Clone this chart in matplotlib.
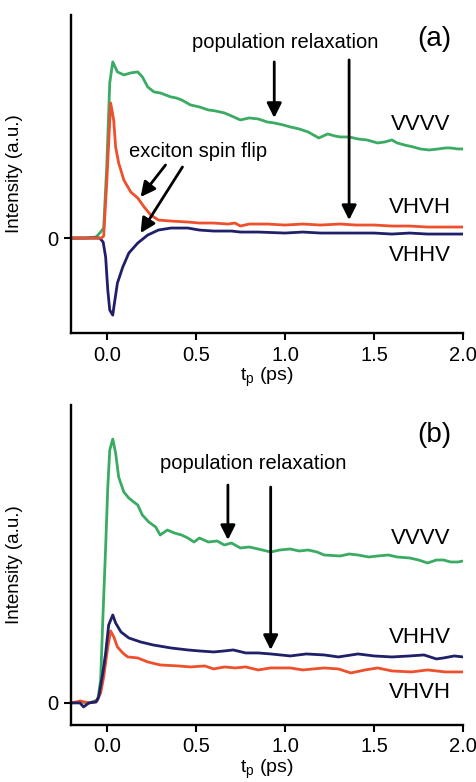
import matplotlib
matplotlib.use('Agg')
import matplotlib.pyplot as plt

plt.rcParams['font.family'] = ['Liberation Sans', 'DejaVu Sans']

# ---- panel (a) data: delay (ps) and intensity (a.u.) ----
t_a_vvvv = [-0.20, -0.12, -0.06, -0.034, -0.017, 0.0, 0.017, 0.034, 0.06, 0.096, 0.135,
            0.174, 0.20, 0.23, 0.265, 0.30, 0.33, 0.36, 0.39, 0.42, 0.47, 0.52, 0.57,
            0.61, 0.66, 0.70, 0.75, 0.80, 0.85, 0.90, 0.94, 0.99, 1.03, 1.08, 1.13,
            1.19, 1.24, 1.28, 1.31, 1.36, 1.41, 1.46, 1.52, 1.56, 1.60, 1.63, 1.67,
            1.72, 1.76, 1.81, 1.86, 1.90, 1.93, 1.97, 2.0]
i_a_vvvv = [0.0, 0.0, 0.01, 0.06, 0.10, 0.71, 1.55, 1.76, 1.66, 1.63, 1.65,
            1.66, 1.61, 1.51, 1.46, 1.45, 1.43, 1.41, 1.40, 1.38, 1.33, 1.31, 1.28,
            1.27, 1.25, 1.22, 1.18, 1.20, 1.19, 1.16, 1.15, 1.13, 1.11, 1.09, 1.06,
            1.00, 1.04, 1.02, 1.01, 1.01, 0.99, 0.98, 0.95, 0.96, 0.98, 0.95, 0.93,
            0.91, 0.89, 0.88, 0.89, 0.90, 0.90, 0.89, 0.89]

t_a_vhvh = [-0.20, -0.10, -0.03, -0.017, 0.0, 0.022, 0.039, 0.05, 0.067, 0.096, 0.135,
            0.174, 0.21, 0.247, 0.29, 0.36, 0.455, 0.52, 0.60, 0.68, 0.72, 0.75, 0.80,
            0.90, 1.00, 1.10, 1.20, 1.31, 1.40, 1.50, 1.60, 1.70, 1.80, 1.90, 2.0]
i_a_vhvh = [0.0, 0.0, 0.0, 0.02, 0.55, 1.35, 1.18, 0.91, 0.75, 0.58, 0.46,
            0.40, 0.31, 0.23, 0.18, 0.17, 0.16, 0.15, 0.15, 0.14, 0.15, 0.12, 0.14,
            0.14, 0.13, 0.14, 0.13, 0.14, 0.13, 0.13, 0.12, 0.12, 0.11, 0.11, 0.11]

t_a_vhhv = [-0.20, -0.10, -0.04, -0.02, -0.006, 0.006, 0.017, 0.034, 0.04, 0.06, 0.09,
            0.124, 0.174, 0.23, 0.29, 0.36, 0.455, 0.52, 0.60, 0.70, 0.75, 0.85, 1.00,
            1.10, 1.20, 1.31, 1.40, 1.50, 1.60, 1.70, 1.80, 1.90, 2.0]
i_a_vhhv = [0.0, 0.0, 0.0, -0.04, -0.19, -0.52, -0.72, -0.77, -0.69, -0.45, -0.29,
            -0.15, -0.05, 0.03, 0.08, 0.10, 0.10, 0.08, 0.07, 0.07, 0.06, 0.06, 0.05,
            0.06, 0.05, 0.05, 0.05, 0.05, 0.04, 0.05, 0.04, 0.04, 0.04]

# ---- panel (b) data ----
t_b_vvvv = [-0.20, -0.15, -0.10, -0.05, -0.034, -0.022, -0.006, 0.006, 0.017, 0.034, 0.05,
            0.067, 0.096, 0.124, 0.152, 0.174, 0.20, 0.236, 0.275, 0.30, 0.34, 0.38,
            0.42, 0.455, 0.49, 0.52, 0.57, 0.62, 0.66, 0.70, 0.75, 0.80, 0.85, 0.92,
            0.97, 1.03, 1.08, 1.13, 1.18, 1.22, 1.31, 1.36, 1.41, 1.47, 1.52, 1.58,
            1.63, 1.70, 1.75, 1.80, 1.85, 1.89, 1.93, 1.97, 2.0]
i_b_vvvv = [0.0, 0.01, 0.0, 0.03, 0.23, 0.83, 1.56, 2.16, 2.53, 2.64, 2.50,
            2.26, 2.11, 2.05, 2.01, 1.98, 1.88, 1.81, 1.76, 1.68, 1.73, 1.70,
            1.68, 1.65, 1.61, 1.65, 1.61, 1.62, 1.58, 1.60, 1.55, 1.56, 1.54, 1.51,
            1.53, 1.54, 1.52, 1.53, 1.51, 1.48, 1.47, 1.49, 1.48, 1.46, 1.47, 1.48,
            1.46, 1.45, 1.43, 1.40, 1.43, 1.43, 1.41, 1.41, 1.42]

t_b_vhhv = [-0.20, -0.15, -0.13, -0.10, -0.06, -0.045, -0.022, -0.006, 0.011, 0.034, 0.05,
            0.08, 0.124, 0.19, 0.26, 0.36, 0.455, 0.52, 0.60, 0.66, 0.71, 0.78, 0.85,
            0.92, 1.03, 1.12, 1.22, 1.30, 1.41, 1.50, 1.60, 1.70, 1.78, 1.85, 1.89,
            1.95, 2.0]
i_b_vhhv = [0.0, 0.0, -0.04, 0.0, 0.01, 0.06, 0.30, 0.50, 0.78, 0.88, 0.80,
            0.71, 0.65, 0.61, 0.58, 0.55, 0.53, 0.52, 0.51, 0.52, 0.53, 0.50, 0.50,
            0.49, 0.47, 0.49, 0.48, 0.46, 0.49, 0.47, 0.46, 0.47, 0.48, 0.44, 0.45,
            0.47, 0.46]

t_b_vhvh = [-0.20, -0.17, -0.15, -0.10, -0.06, -0.034, -0.017, 0.006, 0.022, 0.04, 0.06,
            0.09, 0.118, 0.174, 0.23, 0.30, 0.40, 0.47, 0.55, 0.60, 0.66, 0.72, 0.78,
            0.85, 0.92, 1.03, 1.10, 1.22, 1.30, 1.37, 1.45, 1.52, 1.60, 1.71, 1.80,
            1.90, 2.0]
i_b_vhvh = [0.0, 0.01, 0.02, 0.0, 0.01, 0.10, 0.26, 0.56, 0.72, 0.66, 0.56,
            0.50, 0.46, 0.45, 0.41, 0.38, 0.37, 0.36, 0.37, 0.34, 0.36, 0.35, 0.36,
            0.33, 0.35, 0.35, 0.33, 0.35, 0.34, 0.30, 0.33, 0.35, 0.32, 0.31, 0.33,
            0.31, 0.31]

green = '#3aab62'
red = '#ee4f2c'
navy = '#1f1f6a'

fig = plt.figure(figsize=(4.77, 7.82), dpi=100)
ax_a = fig.add_axes([0.149, 0.574, 0.822, 0.407])
ax_b = fig.add_axes([0.149, 0.073, 0.822, 0.409])


def style_axes(ax, ylim):
    ax.set_xlim(-0.2, 2.0)
    ax.set_ylim(*ylim)
    for side in ('top', 'right'):
        ax.spines[side].set_visible(False)
    for side in ('left', 'bottom'):
        ax.spines[side].set_linewidth(1.7)
    ax.set_xticks([0.0, 0.5, 1.0, 1.5, 2.0])
    ax.set_xticklabels(['0.0', '0.5', '1.0', '1.5', '2.0'])
    ax.set_yticks([0])
    ax.set_yticklabels(['0'])
    ax.tick_params(direction='out', length=5, width=1.5, labelsize=14.5, pad=4)
    ax.set_xlabel(r'$\mathregular{t_p}$ (ps)', fontsize=14, labelpad=1)
    ax.set_ylabel('Intensity (a.u.)', fontsize=13.5)
    ax.yaxis.set_label_coords(-0.122, 0.5)


def arrow(ax, start, end):
    ax.annotate('', xy=end, xytext=start,
                arrowprops=dict(arrowstyle='-|>', lw=2, color='k',
                                mutation_scale=22, shrinkA=0, shrinkB=0))


# panel (a)
ax_a.plot(t_a_vvvv, i_a_vvvv, color=green, lw=2)
ax_a.plot(t_a_vhhv, i_a_vhhv, color=navy, lw=2)
ax_a.plot(t_a_vhvh, i_a_vhvh, color=red, lw=2)
style_axes(ax_a, (-0.95, 2.23))
ax_a.text(1.84, 1.99, '(a)', fontsize=20, ha='center', va='center')
ax_a.text(1.0, 1.95, 'population relaxation', fontsize=14.5, ha='center', va='center')
ax_a.text(0.51, 0.86, 'exciton spin flip', fontsize=14.5, ha='center', va='center')
arrow(ax_a, (0.94, 1.76), (0.94, 1.20))
arrow(ax_a, (1.36, 1.78), (1.36, 0.18))
arrow(ax_a, (0.33, 0.73), (0.19, 0.41))
arrow(ax_a, (0.425, 0.71), (0.19, 0.05))
ax_a.text(1.76, 1.13, 'VVVV', fontsize=16, ha='center', va='center')
ax_a.text(1.76, 0.31, 'VHVH', fontsize=16, ha='center', va='center')
ax_a.text(1.76, -0.17, 'VHHV', fontsize=16, ha='center', va='center')

# panel (b)
ax_b.plot(t_b_vvvv, i_b_vvvv, color=green, lw=2)
ax_b.plot(t_b_vhvh, i_b_vhvh, color=red, lw=2)
ax_b.plot(t_b_vhhv, i_b_vhhv, color=navy, lw=2)
style_axes(ax_b, (-0.22, 2.98))
ax_b.text(1.84, 2.68, '(b)', fontsize=20, ha='center', va='center')
ax_b.text(0.82, 2.40, 'population relaxation', fontsize=14.5, ha='center', va='center')
arrow(ax_b, (0.68, 2.18), (0.68, 1.63))
arrow(ax_b, (0.92, 2.16), (0.92, 0.53))
ax_b.text(1.76, 1.65, 'VVVV', fontsize=16, ha='center', va='center')
ax_b.text(1.76, 0.65, 'VHHV', fontsize=16, ha='center', va='center')
ax_b.text(1.76, 0.10, 'VHVH', fontsize=16, ha='center', va='center')

fig.savefig('out.png', dpi=100)
